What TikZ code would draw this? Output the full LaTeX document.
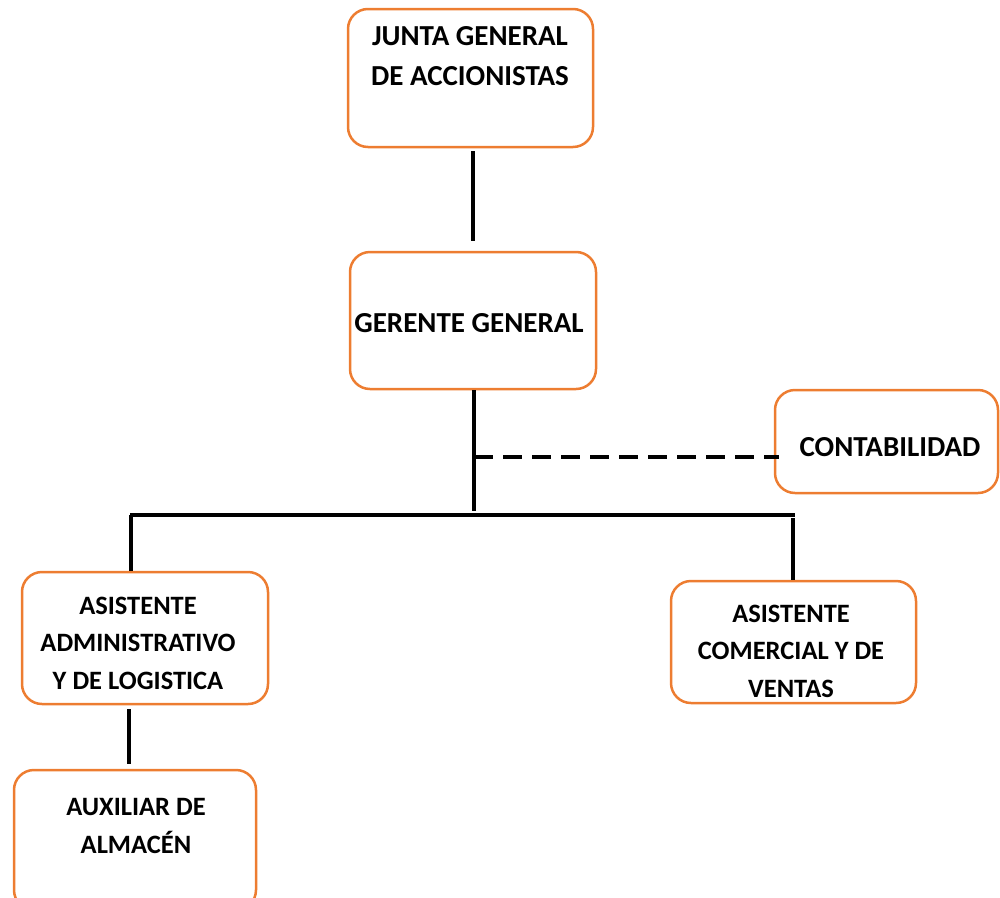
\documentclass[tikz,border=0pt]{standalone}
\usepackage{fontspec}
\setmainfont{Carlito}
\usetikzlibrary{calc}
\definecolor{boxorange}{HTML}{ED7D31}
\begin{document}
\begin{tikzpicture}[x=1pt,y=-1pt,
  box/.style={draw=boxorange, line width=2.5pt, rounded corners=20pt, inner sep=0pt},
  lbl/.style={font=\bfseries\fontsize{29}{40}\selectfont, align=center, inner sep=0pt, anchor=base},
  small/.style={font=\bfseries\fontsize{26.5}{37.5}\selectfont},
  conn/.style={line width=4pt}]
\clip (0,0) rectangle (1000,897);
% boxes
\node[box, minimum width=245pt, minimum height=138pt] (junta) at (470.5,78) {};
\node[box, minimum width=246pt, minimum height=137pt] (gerente) at (473,320.5) {};
\node[box, minimum width=223pt, minimum height=103pt] (contab) at (886.5,441.5) {};
\node[box, minimum width=246pt, minimum height=132pt] (admin) at (145,638) {};
\node[box, minimum width=245pt, minimum height=122pt] (comercial) at (793.5,642) {};
\node[box, minimum width=242pt, minimum height=140pt] (auxiliar) at (135,840) {};
% texts (anchor = baseline of last line)
\node[lbl] (tjunta) at (470,85) {JUNTA GENERAL\\DE ACCIONISTAS};
\node[lbl] (tgerente) at (469,332) {GERENTE GENERAL};
\node[lbl] (tcontab) at (890,456) {CONTABILIDAD};
\node[lbl, small] (tadmin) at (138,689) {ASISTENTE\\ADMINISTRATIVO\\Y DE LOGISTICA};
\node[lbl, small] (tcomercial) at (791,697) {ASISTENTE\\COMERCIAL Y DE\\VENTAS};
\node[lbl, small, font=\bfseries\fontsize{26.5}{38}\selectfont] (tauxiliar) at (136,853) {AUXILIAR DE\\ALMACÉN};
% connector points
\coordinate (busL) at (130,515);
\coordinate (busR) at (795,515);
\coordinate (busM) at (474,511);
\coordinate (dashL) at (474,457);
% connectors
\draw[conn] ($(junta.south)+(2.5,3)$) -- ($(gerente.north)+(0,-10)$);
\draw[conn] (gerente.south -| busM) -- (busM);
\draw[conn, dash pattern=on 19pt off 10pt] (dashL) -- ($(dashL -| contab.west)+(5,0)$);
\draw[conn] (busL) -- (busR);
\draw[conn] ($(busL)+(1,0)$) -- ($(busL |- admin.north)+(1,0)$);
\draw[conn] ($(busR)+(-2,3)$) -- ($(busR |- comercial.north)+(-2,0)$);
\draw[conn] ($(admin.south -| busL)+(-1,4)$) -- ($(auxiliar.north -| busL)+(-1,-5)$);
\end{tikzpicture}
\end{document}
